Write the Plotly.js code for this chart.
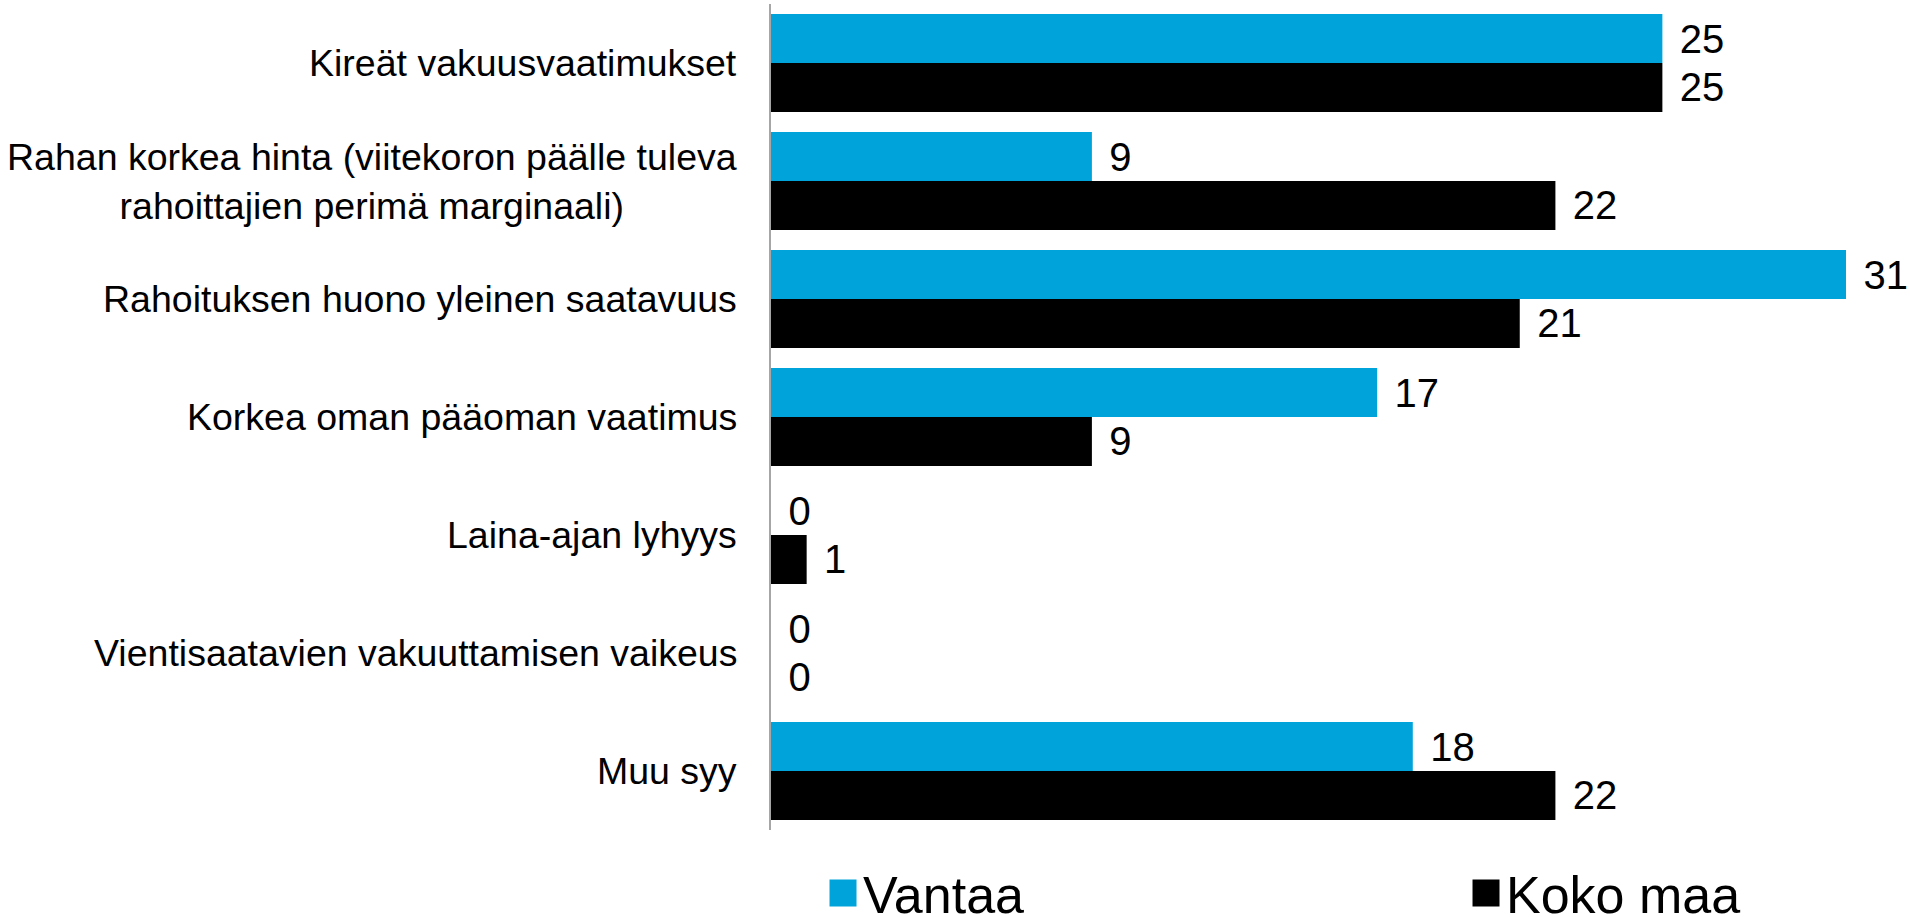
<!DOCTYPE html>
<html>
<head>
<meta charset="utf-8">
<script src="https://cdn.plot.ly/plotly-3.0.1.min.js"></script>
<style>html,body{margin:0;padding:0;background:#fff;}#chart{width:1910px;height:917px;}</style>
</head>
<body>
<div id="chart"></div>
<script>
const categories = [
  "Kireät vakuusvaatimukset",
  "Rahan korkea hinta (viitekoron päälle tuleva<br>rahoittajien perimä marginaali)",
  "Rahoituksen huono yleinen saatavuus",
  "Korkea oman pääoman vaatimus",
  "Laina-ajan lyhyys",
  "Vientisaatavien vakuuttamisen vaikeus",
  "Muu syy"
];
const seriesNames = ["Vantaa", "Koko maa"];
const vantaa = [25, 9, 31, 17, 0, 0, 18];
const kokoMaa = [25, 22, 21, 9, 1, 0, 22];
const seriesColors = ["#00a3da", "#000000"];

const FONT = "Liberation Sans, Arial, sans-serif";
const XMAX = 30.15;

function barTrace(name, values, color, group, legendwidth) {
  const t = {
    type: "bar",
    orientation: "h",
    name: name,
    y: categories,
    x: values,
    offsetgroup: group,
    marker: {color: color, line: {width: 0}},
    cliponaxis: true,
    hoverinfo: "x+name"
  };
  if (legendwidth) t.legendwidth = legendwidth;
  return t;
}

// value labels, placed at the visible end of each (possibly clipped) bar
function labelTrace(name, values, group) {
  return {
    type: "bar",
    orientation: "h",
    name: name,
    y: categories,
    x: values.map(v => Math.min(v, XMAX)),
    offsetgroup: group,
    marker: {color: "rgba(0,0,0,0)", line: {width: 0}},
    text: values.map(v => "\u00a0\u200a" + v),
    textposition: "outside",
    textfont: {family: FONT, size: 40, color: "#000"},
    constraintext: "none",
    cliponaxis: false,
    showlegend: false,
    hoverinfo: "skip"
  };
}

const data = [
  barTrace(seriesNames[0], vantaa, seriesColors[0], "a", 598),
  barTrace(seriesNames[1], kokoMaa, seriesColors[1], "b"),
  labelTrace(seriesNames[0], vantaa, "a"),
  labelTrace(seriesNames[1], kokoMaa, "b")
];

const annotations = categories.map(c => ({
  xref: "paper", yref: "y", x: 0, y: c, xanchor: "right", yanchor: "middle",
  xshift: -32, text: c, align: "center", showarrow: false,
  font: {family: FONT, size: 37.5, color: "#000"}
}));

const layout = {
  width: 1910, height: 917,
  margin: {l: 771, r: 64, t: 4, b: 87, pad: 0, autoexpand: false},
  paper_bgcolor: "#fff", plot_bgcolor: "#fff",
  barmode: "group", bargap: 0.17, bargroupgap: 0,
  font: {family: FONT, color: "#000"},
  xaxis: {range: [0, XMAX], visible: false, fixedrange: true},
  yaxis: {autorange: "reversed", showticklabels: false, ticks: "", showgrid: false,
          showline: true, linecolor: "#a6a6a6", linewidth: 2, zeroline: false},
  showlegend: true,
  legend: {orientation: "h", xref: "container", yref: "container",
           x: 0.4309, y: 0.026, xanchor: "left", yanchor: "middle",
           font: {family: FONT, size: 52, color: "#000"},
           bgcolor: "rgba(0,0,0,0)", traceorder: "normal"},
  annotations: annotations
};

Plotly.newPlot("chart", data, layout, {staticPlot: true, displayModeBar: false}).then(gd => {
  document.querySelectorAll(".legend .legendpoints path").forEach(p => {
    p.setAttribute("d", "M13.5,13.5H-13.5V-13.5H13.5Z");
  });
});
</script>
</body>
</html>
